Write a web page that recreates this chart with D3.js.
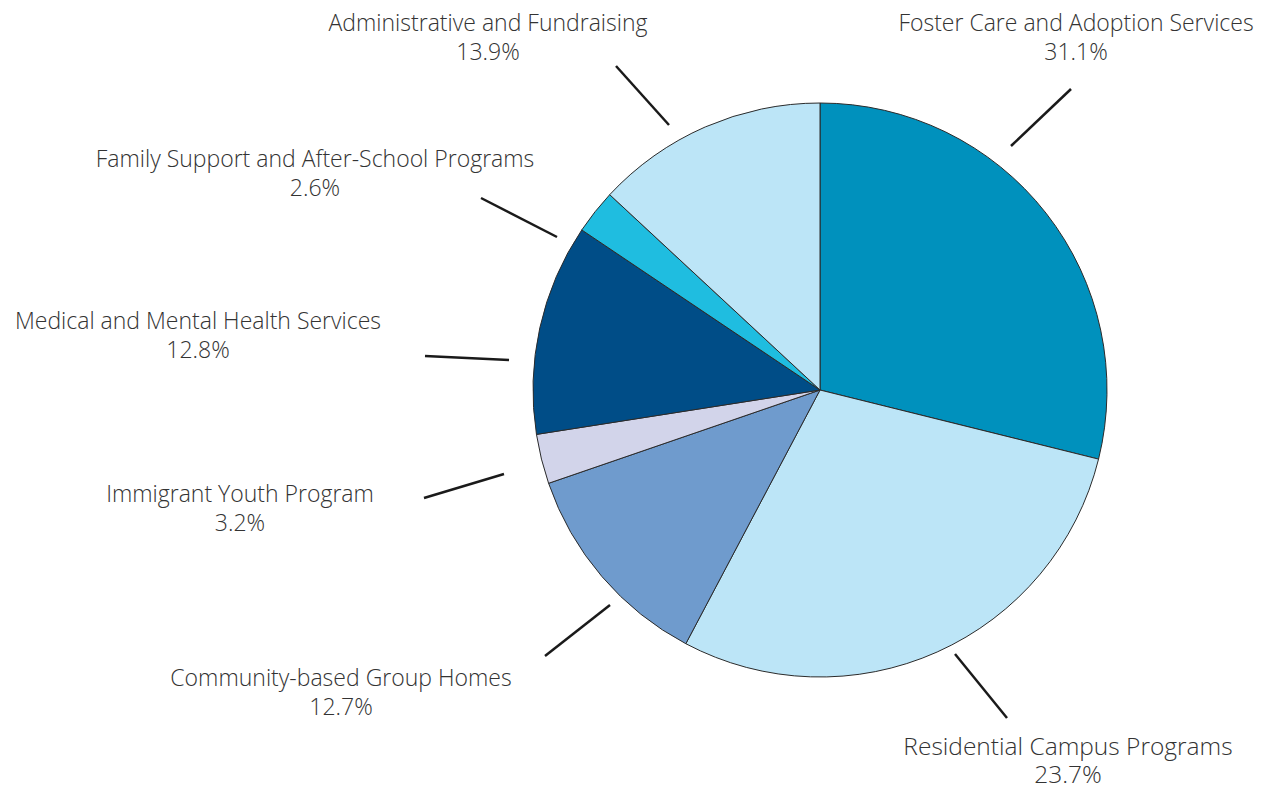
<!DOCTYPE html>
<html>
<head>
<meta charset="utf-8">
<script src="https://cdn.jsdelivr.net/npm/d3@7"></script>
<style>
  body { margin: 0; background: #fff; }
  svg text { font-family: "Open Sans", sans-serif; font-weight: 300; fill: #333; }
</style>
</head>
<body>
<div id="chart"></div>
<script>
// slice order clockwise from 12 o'clock
const categories = [
  "Foster Care and Adoption Services",
  "Residential Campus Programs",
  "Community-based Group Homes",
  "Immigrant Youth Program",
  "Medical and Mental Health Services",
  "Family Support and After-School Programs",
  "Administrative and Fundraising"
];
// slice sizes as drawn in the picture
const sliceValues = [28.9, 28.9, 12.0, 2.8, 11.9, 2.5, 13.1];
// percentages printed in the labels
const pctLabels = ["31.1%", "23.7%", "12.7%", "3.2%", "12.8%", "2.6%", "13.9%"];
const colors = ["#0091bd", "#bce5f7", "#6f9bcd", "#d2d4ea", "#004d87", "#1fbde0", "#bce5f7"];

const width = 1271, height = 789;
const cx = 820, cy = 390, radius = 287;

// label layout: text centre / first baseline, font size, line gap, leader line (offsets from pie centre)
const layout = [
  { x: 1076, y: 31, size: 23, gap: 29, line: [191, -244, 251, -301] },
  { x: 1068, y: 755, size: 24.5, gap: 28, line: [135, 264, 187, 328] },
  { x: 341, y: 686, size: 23, gap: 29, line: [-210, 215, -275, 266] },
  { x: 240, y: 502, size: 23, gap: 29, line: [-316, 84, -396, 108] },
  { x: 198, y: 329, size: 23, gap: 29, line: [-311, -30, -395, -34] },
  { x: 315, y: 167, size: 23, gap: 29, line: [-263, -153, -339, -192] },
  { x: 488, y: 31, size: 23, gap: 29, line: [-151, -265, -204, -324] }
];

const svg = d3.select("#chart").append("svg")
  .attr("width", width)
  .attr("height", height);

const pie = d3.pie().sort(null).value(d => d);
const arc = d3.arc().innerRadius(0).outerRadius(radius);

const g = svg.append("g").attr("transform", `translate(${cx},${cy})`);

g.selectAll("path")
  .data(pie(sliceValues))
  .enter()
  .append("path")
  .attr("d", arc)
  .attr("fill", (d, i) => colors[i])
  .attr("stroke", "#2b2b2b")
  .attr("stroke-width", 1);

g.selectAll("line.leader")
  .data(layout)
  .enter()
  .append("line")
  .attr("class", "leader")
  .attr("x1", d => d.line[0])
  .attr("y1", d => d.line[1])
  .attr("x2", d => d.line[2])
  .attr("y2", d => d.line[3])
  .attr("stroke", "#1a1a1a")
  .attr("stroke-width", 2.5);

const labels = svg.selectAll("text.lbl")
  .data(categories)
  .enter()
  .append("text")
  .attr("class", "lbl")
  .attr("text-anchor", "middle")
  .attr("font-size", (d, i) => layout[i].size);

labels.append("tspan")
  .attr("x", (d, i) => layout[i].x)
  .attr("y", (d, i) => layout[i].y)
  .text(d => d);

labels.append("tspan")
  .attr("x", (d, i) => layout[i].x)
  .attr("y", (d, i) => layout[i].y + layout[i].gap)
  .text((d, i) => pctLabels[i]);
</script>
</body>
</html>
